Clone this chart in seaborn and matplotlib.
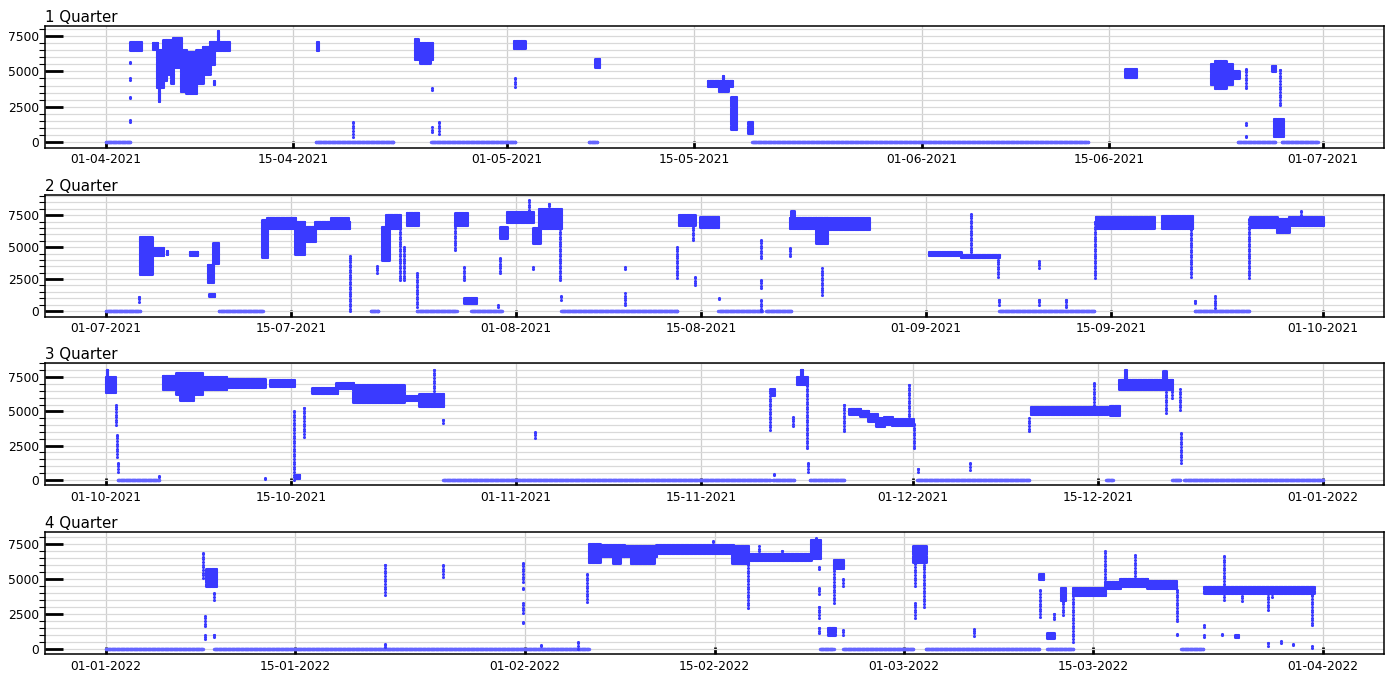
import numpy as np
import pandas as pd
import matplotlib
matplotlib.use("Agg")
import matplotlib.pyplot as plt
import matplotlib.dates as mdates
from matplotlib.ticker import MultipleLocator
import seaborn as sns

# Quarter boundaries
quarter_starts = ["2021-04-01", "2021-07-01", "2021-10-01", "2022-01-01"]
quarter_ends = ["2021-07-01", "2021-10-01", "2022-01-01", "2022-04-01"]
quarter_titles = ["1 Quarter", "2 Quarter", "3 Quarter", "4 Quarter"]
y_limits = [(-398, 8210), (-430, 9100), (-400, 8500), (-390, 8320)]

# Operating periods: (start day, end day, low value, high value), days counted
# from the first day of the quarter. Readings are hourly; a band covers every
# level between low and high in steps of the meter resolution.
q1_segments = [
    (0.0, 1.8, 0, 0), (1.8, 1.8, 1450, 1600), (1.8, 1.8, 3150, 3200),
    (1.8, 1.8, 4400, 4500), (1.8, 1.8, 5600, 5650), (1.8, 2.6, 6500, 7100),
    (3.5, 3.8, 6600, 7000), (3.8, 4.3, 3900, 6500), (3.95, 4.0, 2900, 3900),
    (4.3, 4.5, 4400, 7200), (4.5, 5.0, 4850, 7200), (4.9, 5.0, 4200, 4850),
    (5.0, 5.6, 5300, 7350), (5.6, 6.0, 3650, 6500), (6.0, 6.75, 3450, 6400),
    (6.75, 7.25, 4150, 6500), (7.25, 7.75, 4850, 6750), (7.75, 8.1, 5550, 7100),
    (8.05, 8.1, 4100, 4300), (8.1, 9.2, 6500, 7100), (8.35, 8.4, 7100, 7850),
    (15.75, 15.85, 6500, 7100), (15.7, 21.5, 0, 0), (18.5, 18.5, 400, 1400),
    (23.1, 24.4, 5900, 7000), (23.1, 23.3, 7000, 7300), (23.5, 24.2, 5600, 5900),
    (24.35, 24.35, 3700, 3850), (24.35, 24.35, 700, 1050), (24.9, 24.9, 600, 1400),
    (24.3, 30.6, 0, 0), (30.5, 31.3, 6650, 7150), (30.6, 30.6, 3900, 4500),
    (36.1, 36.7, 0, 0), (36.6, 36.9, 5300, 5900),
    (45.0, 46.8, 3950, 4350), (45.8, 46.5, 3600, 3950), (46.1, 46.15, 4350, 4650),
    (46.75, 47.1, 950, 3200), (48.0, 48.3, 650, 1400), (48.3, 73.4, 0, 0),
    (76.2, 77.0, 4600, 5150), (82.6, 84.2, 4100, 5500), (82.9, 83.7, 3800, 5750),
    (84.2, 84.7, 4500, 5000), (85.2, 85.2, 3800, 5200), (85.2, 85.2, 1200, 1350),
    (85.2, 85.2, 350, 450), (84.6, 87.4, 0, 0), (87.2, 87.4, 5000, 5400),
    (87.75, 87.75, 2600, 5100), (87.3, 88.0, 470, 1670), (87.9, 90.6, 0, 0),
]

q2_segments = [
    (0.0, 2.57, 0, 0), (2.5, 2.5, 730, 1120), (2.57, 3.45, 2900, 5800),
    (3.45, 4.33, 4400, 4900), (4.6, 4.65, 4500, 4700), (6.35, 6.9, 4400, 4650),
    (7.8, 8.2, 1150, 1300), (7.7, 8.1, 2300, 3600), (8.1, 8.5, 3750, 5300),
    (8.54, 11.87, 0, 0), (11.8, 12.2, 4200, 7100), (12.2, 14.3, 6500, 7300),
    (14.3, 15.0, 4500, 7000), (15.0, 15.8, 5500, 6600), (15.8, 18.4, 6500, 7000),
    (17.0, 18.3, 7000, 7300), (18.45, 18.45, 0, 4300),
    (20.0, 20.6, 0, 0), (20.5, 20.5, 3000, 3500), (20.9, 21.4, 4000, 6600),
    (21.2, 22.2, 6500, 7500), (22.2, 22.2, 2400, 6500), (22.5, 22.5, 2400, 5000),
    (22.75, 23.6, 6700, 7700), (23.5, 23.5, 350, 2950),
    (23.5, 26.5, 0, 0), (26.4, 27.3, 6700, 7650), (26.4, 26.4, 4750, 6700),
    (27.1, 27.1, 2400, 3450), (27.1, 28.0, 650, 1000), (27.6, 29.9, 0, 0),
    (29.6, 29.6, 350, 450), (29.8, 29.8, 2950, 4150), (29.8, 30.3, 5700, 6600),
    (30.3, 32.3, 7000, 7750), (32.0, 32.0, 7750, 8650), (32.3, 32.8, 5300, 6500),
    (32.3, 32.3, 3300, 3450), (32.7, 34.4, 6500, 8000), (33.5, 33.5, 8000, 8400),
    (34.3, 34.3, 2400, 6500), (34.4, 34.4, 900, 1200), (34.4, 43.2, 0, 0),
    (39.2, 39.2, 450, 1400), (39.2, 39.2, 3300, 3450), (43.2, 43.2, 2600, 5000),
    (43.3, 44.5, 6700, 7500), (44.4, 44.4, 5550, 6700), (44.5, 44.5, 2000, 2700),
    (44.9, 46.3, 6550, 7350), (46.3, 49.6, 0, 0), (46.35, 46.35, 950, 1050),
    (49.5, 49.5, 4150, 5550), (49.5, 49.5, 1800, 2400), (49.5, 49.5, 0, 900),
    (49.9, 51.8, 0, 0), (51.7, 51.7, 4300, 4900), (51.7, 53.7, 6500, 7300),
    (51.8, 52.0, 7300, 7800), (53.7, 54.5, 5300, 7300), (54.1, 54.1, 1270, 3350),
    (54.5, 57.7, 6400, 7300), (62.2, 64.6, 4400, 4600), (64.6, 67.5, 4200, 4400),
    (65.4, 65.4, 4400, 7600), (67.4, 67.4, 2700, 4200), (67.5, 74.7, 0, 0),
    (67.5, 67.5, 500, 900), (70.5, 70.5, 500, 900), (70.5, 70.5, 3400, 3900),
    (72.6, 72.6, 300, 900), (74.75, 74.75, 2600, 7000), (74.8, 79.2, 6500, 7350),
    (79.8, 82.1, 6500, 7400), (82.0, 82.0, 2700, 6500), (82.3, 86.4, 0, 0),
    (82.35, 82.35, 600, 800), (83.8, 83.8, 250, 1150), (86.4, 86.4, 2600, 7200),
    (86.5, 88.5, 6600, 7350), (88.5, 89.4, 6200, 7200), (89.4, 92.0, 6700, 7350),
    (90.3, 90.3, 7350, 7800),
]

q3_segments = [
    (0.0, 0.7, 6400, 7500), (0.05, 0.1, 7500, 8050), (0.75, 0.75, 4000, 5500),
    (0.85, 0.85, 1700, 3300), (0.95, 0.95, 600, 1200), (0.9, 4.0, 0, 0),
    (4.0, 4.0, 200, 300), (4.3, 5.3, 6600, 7600), (5.3, 7.3, 6300, 7800),
    (5.6, 6.6, 5800, 6300), (7.3, 9.1, 6600, 7500), (9.1, 12.0, 6800, 7400),
    (12.0, 12.0, 50, 150), (12.4, 14.2, 6850, 7300), (14.2, 14.2, 0, 5000),
    (14.3, 14.6, 100, 350), (15.0, 15.0, 3150, 5250), (15.6, 17.5, 6350, 6700),
    (17.4, 18.7, 6700, 7050), (18.7, 22.5, 5700, 6900), (22.5, 23.7, 5800, 6100),
    (23.7, 25.5, 5400, 6300), (24.8, 24.8, 6300, 8050), (25.5, 25.5, 4150, 4400),
    (25.5, 50.2, 0, 0), (32.4, 32.4, 3050, 3500), (50.2, 50.2, 3650, 6600),
    (50.3, 50.5, 6200, 6600), (50.4, 52.0, 0, 0), (50.5, 50.5, 350, 450),
    (51.9, 51.9, 3900, 4600), (52.2, 53.0, 7000, 7500), (52.5, 52.6, 7500, 8050),
    (53.0, 53.0, 2300, 7000), (53.1, 53.1, 600, 1200), (53.2, 55.8, 0, 0),
    (55.8, 55.8, 3550, 5500), (56.2, 57.0, 4800, 5200), (57.0, 57.6, 4650, 5050),
    (57.6, 58.3, 4300, 4800), (58.2, 58.8, 3900, 4500), (58.8, 59.4, 4100, 4600),
    (59.4, 61.0, 4000, 4450), (60.7, 60.7, 4450, 6950), (61.05, 61.05, 2300, 4100),
    (61.3, 69.8, 0, 0), (61.4, 61.4, 600, 800), (65.3, 65.3, 750, 1200),
    (69.8, 69.8, 3550, 4500), (69.9, 75.7, 4800, 5300), (74.7, 74.7, 5300, 7050),
    (75.6, 76.1, 0, 0), (75.9, 76.6, 4700, 5400), (76.6, 80.6, 6600, 7300),
    (77.0, 77.1, 7300, 8050), (79.9, 80.1, 7300, 7950), (80.1, 80.1, 4900, 6600),
    (80.6, 80.6, 6000, 6600), (80.6, 81.2, 0, 0), (81.2, 81.2, 5100, 6600),
    (81.25, 81.25, 1250, 3400), (81.5, 92.0, 0, 0),
]

q4_segments = [
    (0.0, 7.15, 0, 0), (7.2, 7.2, 5050, 6850), (7.3, 7.3, 1600, 2300),
    (7.35, 7.35, 650, 1000), (7.4, 8.15, 4500, 5700), (8.0, 8.0, 3500, 4000),
    (8.0, 8.0, 800, 1000), (8.0, 35.7, 0, 0), (20.6, 20.6, 3850, 6000),
    (20.6, 20.6, 100, 350), (24.9, 24.9, 5150, 6000), (30.85, 30.85, 4750, 6100),
    (30.85, 30.85, 4250, 4350), (30.85, 30.85, 2550, 3250), (30.85, 30.85, 1800, 1900),
    (32.2, 32.2, 150, 250), (34.9, 34.9, 0, 500), (35.6, 35.6, 3350, 5300),
    (35.7, 36.5, 6200, 7450), (36.5, 38.3, 6600, 7400), (37.5, 38.0, 6100, 6600),
    (38.3, 40.7, 6600, 7300), (38.8, 40.5, 6100, 6600), (40.7, 46.4, 6800, 7400),
    (44.9, 44.9, 7400, 7700), (46.3, 47.5, 6100, 7300), (47.5, 47.5, 2900, 6600),
    (47.5, 52.1, 6350, 6750), (48.3, 48.3, 6750, 7300), (50.0, 50.0, 6750, 6950),
    (52.1, 52.8, 6500, 7750), (52.5, 52.5, 7750, 7900), (52.7, 52.7, 5700, 5800),
    (52.7, 52.7, 3900, 4300), (52.7, 52.7, 2200, 3000), (52.7, 52.7, 1100, 1500),
    (52.8, 53.8, 0, 0), (53.4, 53.9, 1000, 1500), (53.8, 54.5, 5750, 6350),
    (53.8, 53.8, 3250, 5750), (54.5, 54.5, 4500, 5000), (54.5, 54.5, 1000, 1300),
    (54.5, 59.7, 0, 0), (59.7, 60.6, 6200, 7300), (59.8, 59.8, 4500, 6200),
    (59.8, 59.8, 2200, 3250), (60.5, 60.5, 3000, 6000), (60.6, 69.0, 0, 0),
    (64.2, 64.2, 900, 1400), (69.0, 69.3, 4950, 5300), (69.1, 69.1, 3700, 4200),
    (69.1, 69.1, 2270, 3450), (69.6, 70.1, 750, 1100), (69.6, 71.5, 0, 0),
    (70.1, 70.1, 2100, 2500), (70.6, 70.9, 3500, 4300), (70.75, 70.75, 2400, 3500),
    (71.5, 71.5, 500, 4300), (71.5, 73.9, 3850, 4300), (73.9, 75.0, 4350, 4750),
    (75.0, 77.0, 4500, 5000), (77.0, 79.1, 4350, 4800), (73.9, 73.9, 4750, 6950),
    (76.1, 76.1, 5000, 6700), (79.2, 79.2, 1950, 4200), (79.2, 79.2, 950, 1050),
    (79.5, 81.1, 0, 0), (81.2, 81.2, 1550, 1650), (81.2, 81.2, 850, 950),
    (81.2, 89.3, 4000, 4400), (82.7, 82.7, 3500, 6600), (84.0, 84.0, 3400, 4000),
    (85.9, 85.9, 2750, 4000), (86.2, 86.2, 3700, 4000), (82.5, 82.5, 950, 1050),
    (83.5, 83.7, 850, 950), (85.9, 85.9, 200, 400), (86.9, 86.9, 400, 550),
    (87.8, 87.8, 250, 350), (89.2, 89.2, 50, 150), (89.2, 89.2, 1650, 3800),
]

all_segments = [q1_segments, q2_segments, q3_segments, q4_segments]

HOUR = 1.0 / 24.0
LEVEL_STEP = 75.0
DROP_STEP = 190.0
RUN_BLUE = "#3a3aff"
IDLE_BLUE = "#6565ff"


def readings(start, segments):
    """Expand operating periods into hourly readings."""
    t0 = pd.Timestamp(start)
    rows = []
    for a, b, lo, hi in segments:
        step = DROP_STEP if b == a else LEVEL_STEP
        ts = np.append(np.arange(a, b, HOUR), b) if b > a else np.array([a])
        vs = np.append(np.arange(lo, hi, step), hi) if hi > lo else np.array([lo])
        tt, vv = np.meshgrid(ts, vs)
        rows.append(pd.DataFrame({"day": tt.ravel(), "power": vv.ravel(),
                                  "flat": hi == lo and b > a}))
    df = pd.concat(rows, ignore_index=True)
    df["time"] = t0 + pd.to_timedelta(df["day"], unit="D")
    return df


fig, axes = plt.subplots(4, 1, figsize=(13.9, 6.73), dpi=100)
fig.subplots_adjust(left=0.0324, right=0.9957, top=0.9614, bottom=0.0282,
                    hspace=0.385)

for ax, start, end, title, segs, ylim in zip(axes, quarter_starts, quarter_ends,
                                             quarter_titles, all_segments, y_limits):
    df = readings(start, segs)
    # idle periods: a single row of readings
    sns.scatterplot(data=df[df["flat"]], x="time", y="power", ax=ax,
                    color=IDLE_BLUE, s=6, linewidth=0, zorder=3)
    # running periods
    sns.scatterplot(data=df[~df["flat"]], x="time", y="power", ax=ax,
                    color=RUN_BLUE, s=5, linewidth=0, zorder=3)
    s, e = pd.Timestamp(start), pd.Timestamp(end)
    pad = (e - s) * 0.05
    ax.set_xlim(s - pad, e + pad)
    ax.set_ylim(*ylim)
    ax.set_xlabel("")
    ax.set_ylabel("")
    ax.set_title(title, loc="left", fontsize=10.8, pad=3)

    ax.xaxis.set_major_locator(mdates.DayLocator(bymonthday=[1, 15]))
    ax.xaxis.set_major_formatter(mdates.DateFormatter("%d-%m-%Y"))
    ax.yaxis.set_major_locator(MultipleLocator(2500))
    ax.yaxis.set_minor_locator(MultipleLocator(500))

    ax.grid(which="both", axis="y", color="#d9d9d9", linewidth=0.9, zorder=0)
    ax.grid(which="major", axis="x", color="#cfcfcf", linewidth=0.9, zorder=0)
    ax.set_axisbelow(True)

    ax.tick_params(axis="y", which="major", direction="in", length=13, width=2,
                   labelsize=8.8, pad=4)
    ax.tick_params(axis="y", which="minor", direction="out", length=4, width=0.8)
    ax.tick_params(axis="x", which="major", direction="in", length=5, width=2,
                   labelsize=8.8, pad=4)
    for sp in ax.spines.values():
        sp.set_linewidth(1.1)
        sp.set_color("black")

fig.savefig("out.png", dpi=100)
